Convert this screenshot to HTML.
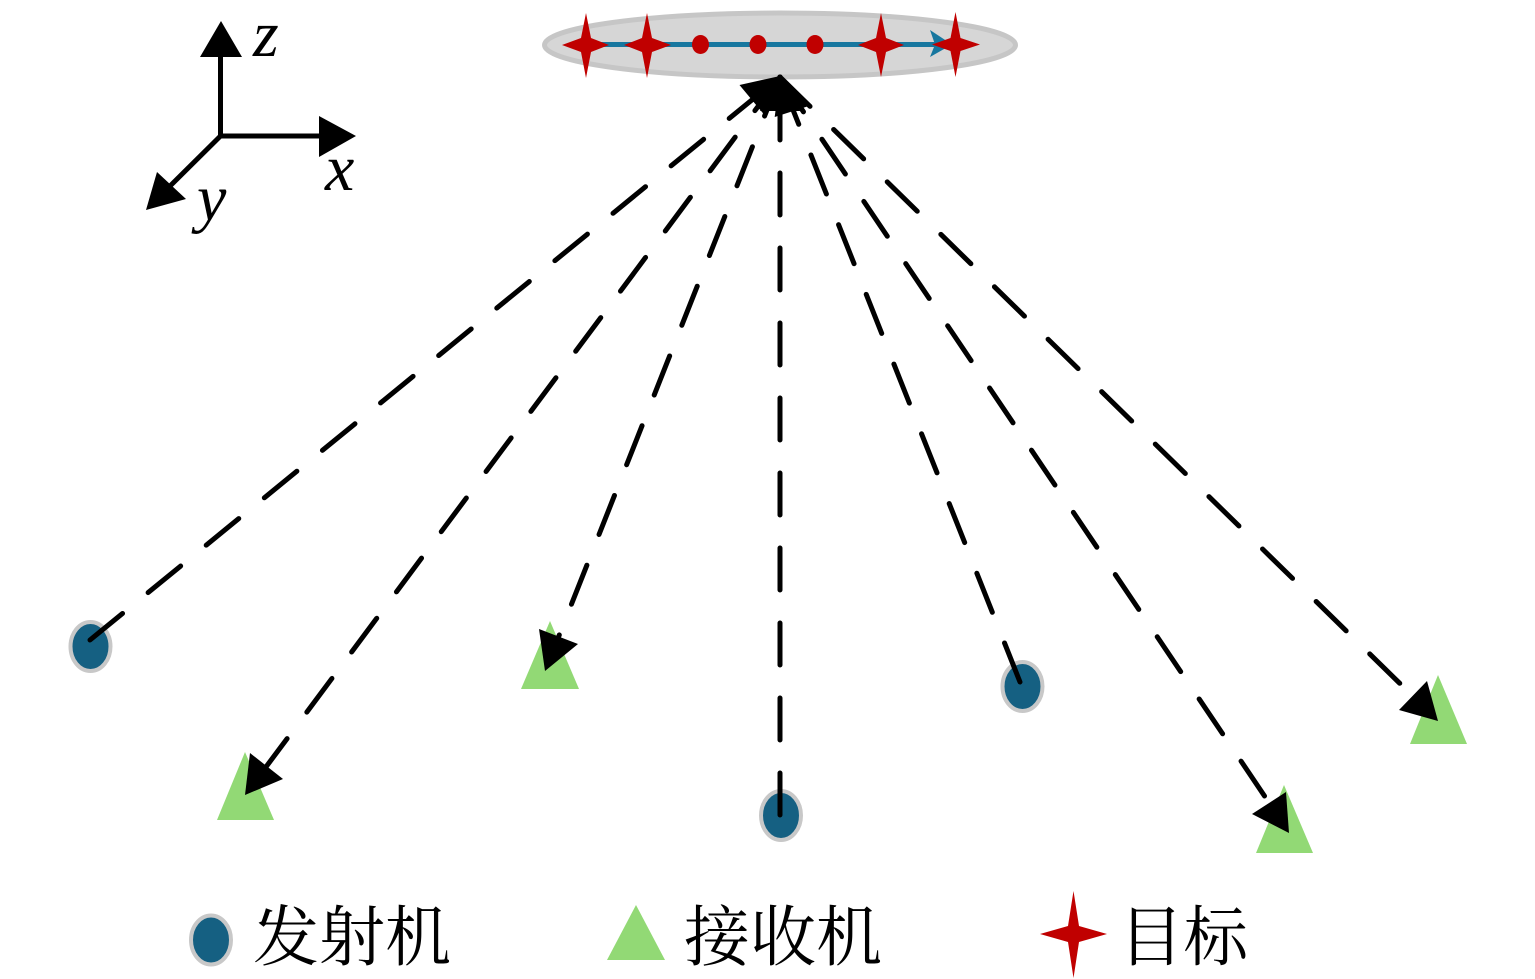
<!DOCTYPE html>
<html><head><meta charset="utf-8"><style>html,body{margin:0;padding:0;background:#fff}svg{display:block}</style></head>
<body>
<svg width="1535" height="979" viewBox="0 0 1535 979" xmlns="http://www.w3.org/2000/svg">
<rect width="1535" height="979" fill="#fff"/>
<!-- top ellipse -->
<ellipse cx="780" cy="45" rx="235.5" ry="32" fill="#d6d6d6" stroke="#c6c6c6" stroke-width="5"/>
<line x1="600" y1="44.5" x2="938" y2="44.5" stroke="#17779f" stroke-width="5"/>
<polygon points="930,30 952,44.5 930,57 935,44.5" fill="#17779f"/>
<g fill="#c00000">
<ellipse cx="700.5" cy="44.5" rx="8.5" ry="9.5"/><ellipse cx="758" cy="44.5" rx="8.5" ry="9.5"/><ellipse cx="815" cy="44.5" rx="8.5" ry="9.5"/>
<polygon points="586,13 591,38 609,45 591,52 586,78 581,52 562,45 581,38"/>
<polygon points="647,13 652,38 671,45 652,52 647,78 642,52 624,45 642,38"/>
<polygon points="881,13 886,38 904,45 886,52 881,77 876,52 858,45 876,38"/>
<polygon points="955.5,12 960.5,38 980,44.5 960.5,51 955.5,77 950.5,51 932,44.5 950.5,38"/>
</g>
<!-- receivers -->
<g fill="#92d975">
<polygon points="245,752 217,820 274,820"/>
<polygon points="550,621 521,689 579,689"/>
<polygon points="1284,785 1256,853 1313,853"/>
<polygon points="1438,675 1410,744 1467,744"/>
<polygon points="636,905 607,960 665,960"/>
</g>
<!-- transmitters -->
<g fill="#156082" stroke="#c8c8c8" stroke-width="4">
<ellipse cx="90.5" cy="646.500" rx="20" ry="24.500"/>
<ellipse cx="1022.500" cy="686.500" rx="20" ry="24.500"/>
<ellipse cx="781" cy="815.500" rx="20" ry="24.500"/>
<ellipse cx="211" cy="940" rx="20" ry="24.500"/>
</g>
<!-- dashed lines -->
<g stroke="#000" stroke-width="5" stroke-linecap="round" stroke-dasharray="42 33" fill="none">
<line x1="90" y1="640" x2="780" y2="77"/>
<line x1="1020" y1="682" x2="780" y2="77"/>
<line x1="780" y1="815" x2="780" y2="77"/>
<line x1="780" y1="77" x2="257" y2="779"/>
<line x1="780" y1="77" x2="552.400" y2="652.400"/>
<line x1="780" y1="77" x2="1278" y2="816"/>
<line x1="780" y1="77" x2="1424" y2="707"/>
</g>
<!-- arrowheads -->
<g fill="#000">
<polygon points="780,76 764.700,115.300 739.500,85"/>
<polygon points="780,76 811.900,105 774.700,117"/>
<polygon points="780,76 760,111 800,111"/>
<polygon points="245,795 250,753 283,779"/>
<polygon points="545,671 539,629 578,644"/>
<polygon points="1289,833 1286,792 1252,814"/>
<polygon points="1438,721 1427,681 1399,710"/>
</g>
<!-- axes -->
<g stroke="#000" stroke-width="5" fill="none">
<line x1="220.500" y1="136" x2="220.500" y2="50"/>
<line x1="218" y1="136" x2="325" y2="136"/>
<line x1="220.500" y1="136" x2="165" y2="191"/>
</g>
<g fill="#000">
<polygon points="221,21 200,57 242,57"/>
<polygon points="356,136 319,116 319,157"/>
<polygon points="146,210 157,172 186,199"/>
</g>
<g font-family="'Liberation Serif',serif" font-style="italic" font-size="66" fill="#000">
<text x="253" y="56">z</text>
<text x="325" y="190">x</text>
<text x="197" y="220">y</text>
</g>
<!-- legend -->
<polygon points="1073.500,891 1079,926 1107,934 1079,942 1073.500,978 1068,942 1040,934 1068,926" fill="#c00000"/>
<g font-family="'Liberation Serif','Noto Serif CJK SC',serif" font-size="66" fill="#000">
<text x="253" y="960" textLength="198" lengthAdjust="spacingAndGlyphs">发射机</text>
<text x="684" y="960" textLength="198" lengthAdjust="spacingAndGlyphs">接收机</text>
<text x="1119" y="960" textLength="129" lengthAdjust="spacingAndGlyphs">目标</text>
</g>
</svg>
</body></html>
